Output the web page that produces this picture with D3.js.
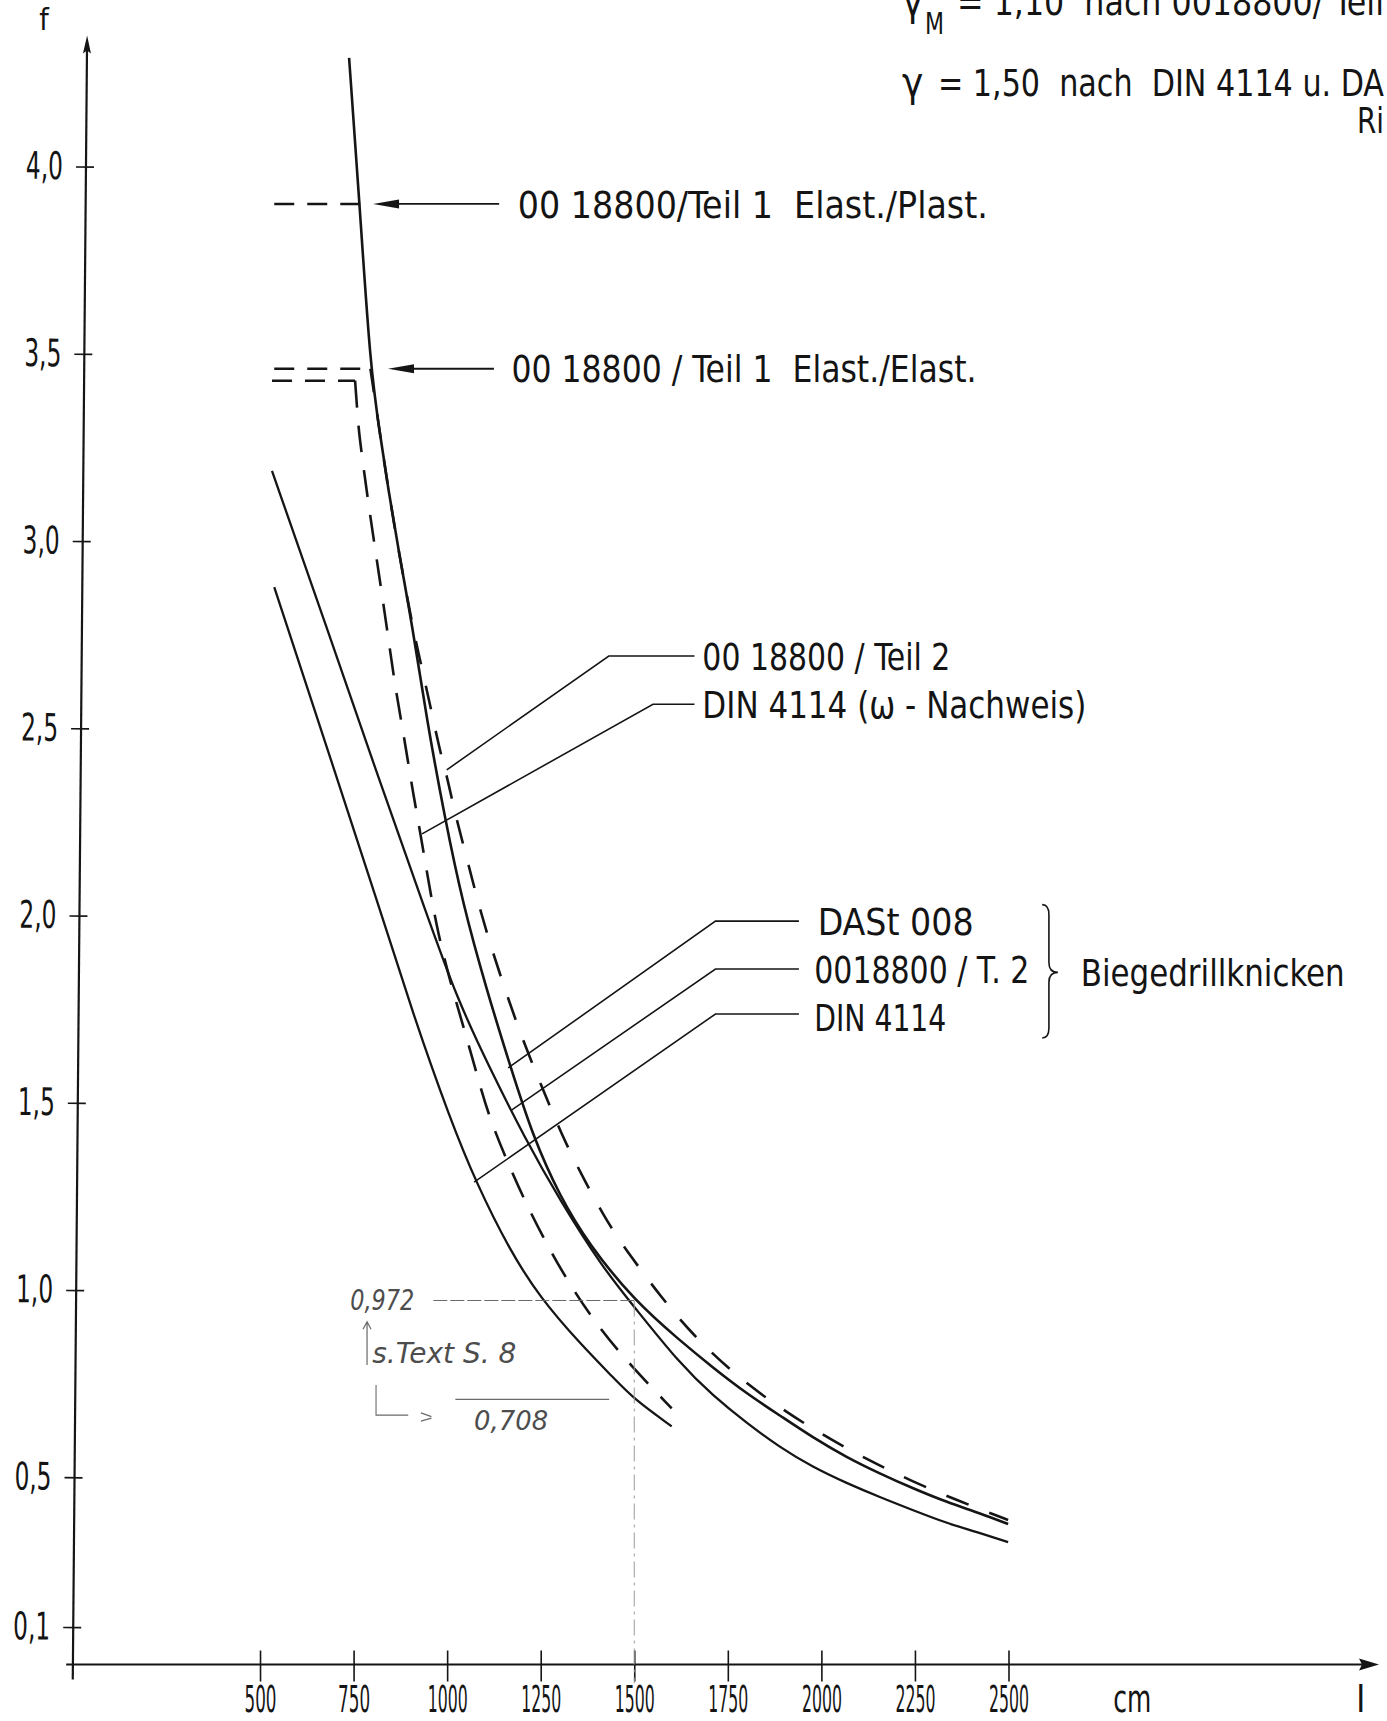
<!DOCTYPE html>
<html>
<head>
<meta charset="utf-8">
<script src="https://cdn.jsdelivr.net/npm/d3@7"></script>
<style>
  html, body { margin: 0; padding: 0; background: #fff; }
  svg { display: block; }
  text { font-family: "Liberation Sans Narrow", "DejaVu Sans Condensed", "Arial Narrow", sans-serif; fill: #141414; white-space: pre; }
  .hand { font-family: "DejaVu Sans", "Liberation Sans", sans-serif; font-style: italic; fill: #4d4d4d; }
</style>
</head>
<body>
<svg id="chart" width="1387" height="1721"></svg>
<script>
// ---- data: span length l [cm] against factor f ----
const xTicks = [500, 750, 1000, 1250, 1500, 1750, 2000, 2250, 2500];
const yTicks = [0.1, 0.5, 1.0, 1.5, 2.0, 2.5, 3.0, 3.5, 4.0];
const yTickLabels = ["0,1", "0,5", "1,0", "1,5", "2,0", "2,5", "3,0", "3,5", "4,0"];

// DASt 008 (Biegedrillknicken) - solid, runs up through the Teil 1 limits
const dast008 = [[738,4.29],[766,3.90],[795,3.46],[820,3.29],[844,3.13],[871,2.97],[906,2.78],[946,2.52],
  [994,2.26],[1042,2.03],[1106,1.80],[1168,1.60],[1229,1.41],[1301,1.25],[1380,1.12],[1500,0.972],
  [1622,0.865],[1710,0.793],[1801,0.723],[1889,0.665],[1977,0.606],[2068,0.553],[2156,0.510],
  [2245,0.470],[2336,0.433],[2424,0.404],[2499,0.375]];

// 0018800 / T. 2 (Biegedrillknicken) - solid
const din18800T2Bdk = [[532,3.187],[677,2.773],[820,2.357],[946,2.002],[1026,1.779],[1114,1.592],
  [1208,1.405],[1301,1.240],[1416,1.059],[1500,0.955],[1622,0.803],[1710,0.718],[1801,0.644],
  [1889,0.580],[1977,0.527],[2068,0.484],[2156,0.447],[2245,0.412],[2336,0.377],[2424,0.351],[2499,0.327]];

// DIN 4114 (Biegedrillknicken) - solid
const din4114Bdk = [[538,2.877],[679,2.448],[820,2.018],[909,1.736],[1007,1.459],[1079,1.283],
  [1168,1.105],[1248,0.980],[1355,0.857],[1448,0.762],[1500,0.708],[1600,0.636]];

// 0018800 / Teil 2 - dashed, limited by Teil 1 Elast./Elast.
const teil1ElastElast = 3.46;
const teil2Plateau = [[538, teil1ElastElast], [797, teil1ElastElast]];
const teil2 = [[795,3.46],[820,3.29],[844,3.13],[871,2.97],[906,2.78],[928,2.68],[954,2.565],[981,2.437],
  [999,2.375],[1021,2.272],[1053,2.152],[1082,2.037],[1117,1.917],[1152,1.811],[1187,1.709],[1224,1.613],
  [1267,1.509],[1315,1.395],[1368,1.291],[1427,1.182],[1491,1.089],[1571,0.982],[1654,0.883],[1756,0.785],
  [1871,0.697],[1996,0.617],[2117,0.550],[2242,0.489],[2376,0.433],[2499,0.386]];

// 0018800 / Teil 1 Elast./Plast. limit - dashed
const teil1ElastPlast = 3.90;
const plastPlateau = [[538, teil1ElastPlast], [768, teil1ElastPlast]];

// DIN 4114 (omega-Nachweis) - long dashes
const omegaPlateauValue = 3.428;
const omegaPlateau = [[532, omegaPlateauValue], [754, omegaPlateauValue]];
const din4114Omega = [[754,3.428],[762,3.317],[767,3.268],[789,3.103],[813,2.943],[837,2.783],[861,2.61],
  [885,2.477],[906,2.344],[930,2.211],[952,2.08],[976,1.95],[1008,1.824],[1047,1.691],[1077,1.585],
  [1109,1.47],[1160,1.344],[1211,1.230],[1275,1.105],[1341,0.993],[1408,0.897],[1488,0.801],[1600,0.684]];

// values quoted in the pencil notes at l = 1500 cm
const noteL = 1500;
const noteUpper = 0.972;
const noteLower = 0.708;

// ---- layout ----
const W = 1387, H = 1721;
const svg = d3.select("#chart");
const x = d3.scaleLinear().domain([0, 2500]).range([72.9, 1008.5]);
const y = d3.scaleLinear().domain([0, 4]).range([1664.5, 166.5]);
const ink = "#151515";

const smooth = d3.line().x(d => x(d[0])).y(d => y(d[1])).curve(d3.curveBasis);
const straight = d3.line().x(d => x(d[0])).y(d => y(d[1]));

// ---- axes ----
// x axis
const labelBase = 1712;
const xAxis = svg.append("g").attr("transform", `translate(0,${y(0)})`)
  .call(d3.axisBottom(x).tickValues(xTicks).tickSize(17).tickFormat(d3.format("d")));
xAxis.select(".domain").remove();
xAxis.selectAll(".tick line").attr("y1", -14).attr("stroke", ink).attr("stroke-width", 1.6);
xAxis.selectAll(".tick text")
  .attr("y", labelBase - y(0)).attr("dy", 0)
  .style("font-size", "38px")
  .attr("textLength", d => String(d).length > 3 ? 40 : 32)
  .attr("lengthAdjust", "spacingAndGlyphs")
  .attr("fill", ink);
svg.append("path")
  .attr("d", straight([[-18, 0], [3462, 0]]))
  .attr("stroke", ink).attr("stroke-width", 2.2).attr("fill", "none");
// arrow head on the l axis
{
  const tx = x(3490), ty = y(0);
  svg.append("path").attr("d", `M${tx},${ty} L${tx - 20},${ty - 6} L${tx - 17},${ty} L${tx - 20},${ty + 6} Z`).attr("fill", ink);
}
svg.append("text").text("cm").attr("x", x(2831)).attr("y", labelBase)
  .attr("text-anchor", "middle").style("font-size", "38px")
  .attr("textLength", 38).attr("lengthAdjust", "spacingAndGlyphs");
svg.append("text").text("l").attr("x", x(3441)).attr("y", labelBase)
  .attr("text-anchor", "middle").style("font-size", "38px");

// y axis (drawn slightly leaning, as on the sheet)
const yAxisOuter = svg.append("g").attr("transform", `rotate(0.5, ${x(0)}, ${y(0)})`);
const yAxis = yAxisOuter.append("g").attr("transform", `translate(${x(0)},0)`)
  .call(d3.axisLeft(y).tickValues(yTicks).tickSize(10).tickPadding(13)
    .tickFormat((d, i) => yTickLabels[i]));
yAxis.select(".domain").remove();
yAxis.selectAll(".tick line").attr("x1", 8).attr("stroke", ink).attr("stroke-width", 1.6);
yAxis.selectAll(".tick text")
  .style("font-size", "38px")
  .attr("textLength", 37).attr("lengthAdjust", "spacingAndGlyphs")
  .attr("fill", ink);
yAxisOuter.append("path")
  .attr("d", `M${x(0)},${y(-0.04)} L${x(0)},${y(4.33)}`)
  .attr("stroke", ink).attr("stroke-width", 2.2);
{
  const tx = x(0), ty = y(4.35);
  yAxisOuter.append("path").attr("d", `M${tx},${ty} L${tx - 4},${ty + 18} L${tx},${ty + 15} L${tx + 4},${ty + 18} Z`).attr("fill", ink);
}
svg.append("text").text("f").attr("x", 44).attr("y", 30)
  .attr("text-anchor", "middle").style("font-size", "30px");

// ---- curves ----
function curve(points, dash, width, gen) {
  svg.append("path")
    .attr("d", (gen || smooth)(points))
    .attr("fill", "none").attr("stroke", ink)
    .attr("stroke-width", width)
    .attr("stroke-linecap", "butt")
    .attr("stroke-dasharray", dash || null);
}
curve(din4114Bdk, null, 2.3);
curve(din18800T2Bdk, null, 2.3);
curve(dast008, null, 2.6);
curve(plastPlateau, "20,13", 2.4, straight);
curve(teil2Plateau, "20,13", 2.4, straight);
curve(teil2, "24,22", 2.6);
curve(omegaPlateau, "20,13", 2.4, straight);
curve(din4114Omega, "27,18", 2.6);

// ---- leaders and labels ----
const leaders = [
  [[1661, 2.693], [1432, 2.693], [999, 2.389]],
  [[1661, 2.564], [1550, 2.564], [933, 2.218]],
  [[1940, 1.985], [1717, 1.985], [1163, 1.593]],
  [[1940, 1.857], [1717, 1.857], [1173, 1.481]],
  [[1940, 1.737], [1717, 1.737], [1072, 1.288]]
];
leaders.forEach(p => svg.append("path").attr("d", straight(p))
  .attr("fill", "none").attr("stroke", ink).attr("stroke-width", 1.6));

// arrows to the Teil 1 limits
[[1139, 802, teil1ElastPlast], [1125, 842, teil1ElastElast]].forEach(([from, to, f]) => {
  const yy = y(f);
  svg.append("line").attr("x1", x(from)).attr("x2", x(to) + 10).attr("y1", yy).attr("y2", yy)
    .attr("stroke", ink).attr("stroke-width", 1.8);
  const tx = x(to);
  svg.append("path").attr("d", `M${tx},${yy} L${tx + 26},${yy - 4.5} L${tx + 26},${yy + 4.5} Z`).attr("fill", ink);
});

const labels = [
  { t: "00 18800/Teil 1  Elast./Plast.", l: 1189, f: 3.90, w: 470 },
  { t: "00 18800 / Teil 1  Elast./Elast.", l: 1172, f: 3.462, w: 465 },
  { t: "00 18800 / Teil 2", l: 1682, f: 2.693, w: 248 },
  { t: "DIN 4114 (\u03c9 - Nachweis)", l: 1682, f: 2.564, w: 384 },
  { t: "DASt 008", l: 1990, f: 1.985, w: 156 },
  { t: "0018800 / T. 2", l: 1981, f: 1.857, w: 215 },
  { t: "DIN 4114", l: 1981, f: 1.728, w: 132 },
  { t: "Biegedrillknicken", l: 2693, f: 1.848, w: 264 }
];
labels.forEach(d => svg.append("text").text(d.t)
  .attr("x", x(d.l)).attr("y", y(d.f) + 14)
  .style("font-size", "38px")
  .attr("textLength", d.w).attr("lengthAdjust", "spacingAndGlyphs"));

// brace grouping the Biegedrillknicken curves
{
  const x0 = x(2590), x1 = x(2608), x2 = x(2632);
  const y0 = y(2.029), ym = y(1.848), y1 = y(1.673), r = 10;
  svg.append("path")
    .attr("d", `M${x0},${y0} Q${x1},${y0} ${x1},${y0 + r} L${x1},${ym - r} Q${x1},${ym} ${x2},${ym} Q${x1},${ym} ${x1},${ym + r} L${x1},${y1 - r} Q${x1},${y1} ${x0},${y1}`)
    .attr("fill", "none").attr("stroke", ink).attr("stroke-width", 1.6);
}

// header lines (the first one runs off the top of the sheet)
svg.append("text").text("\u03b3").attr("x", 902).attr("y", 15).style("font-size", "40px");
svg.append("text").text("M").attr("x", 925).attr("y", 34).style("font-size", "30px")
  .attr("textLength", 19).attr("lengthAdjust", "spacingAndGlyphs");
svg.append("text").text("= 1,10  nach 0018800/ Teil").attr("x", 957).attr("y", 15).style("font-size", "38px")
  .attr("textLength", 427).attr("lengthAdjust", "spacingAndGlyphs");
svg.append("text").text("\u03b3").attr("x", 902).attr("y", 96).style("font-size", "40px");
svg.append("text").text("= 1,50  nach  DIN 4114 u. DA").attr("x", 938).attr("y", 96).style("font-size", "38px")
  .attr("textLength", 446).attr("lengthAdjust", "spacingAndGlyphs");
svg.append("text").text("Ri").attr("x", 1357).attr("y", 133).style("font-size", "36px")
  .attr("textLength", 27).attr("lengthAdjust", "spacingAndGlyphs");

// ---- pencil notes ----
const pencil = "#6a6a6a";
svg.append("path").attr("d", straight([[963, noteUpper], [noteL, noteUpper]]))
  .attr("stroke", pencil).attr("stroke-width", 1).attr("stroke-dasharray", "14,3").attr("fill", "none");
svg.append("path").attr("d", straight([[1022, noteLower], [1433, noteLower]]))
  .attr("stroke", pencil).attr("stroke-width", 1.1).attr("fill", "none");
svg.append("path").attr("d", straight([[noteL, noteUpper], [noteL, -0.05]]))
  .attr("stroke", "#9a9a9a").attr("stroke-width", 1).attr("stroke-dasharray", "16,5,3,5").attr("fill", "none");
svg.append("text").attr("class", "hand").text("0,972").attr("x", x(741)).attr("y", y(0.946))
  .style("font-size", "28px").attr("textLength", 64).attr("lengthAdjust", "spacingAndGlyphs");
svg.append("text").attr("class", "hand").text("s.Text S. 8").attr("x", x(800)).attr("y", y(0.805))
  .style("font-size", "28px").attr("textLength", 144).attr("lengthAdjust", "spacingAndGlyphs");
svg.append("text").attr("class", "hand").text("0,708").attr("x", x(1072)).attr("y", y(0.626))
  .style("font-size", "26px").attr("textLength", 74).attr("lengthAdjust", "spacingAndGlyphs");
// up arrow and the hooked arrow of the notes
svg.append("path").attr("d", `M${x(786)},${y(0.80)} L${x(786)},${y(0.915)} M${x(786) - 4},${y(0.895)} L${x(786)},${y(0.915)} L${x(786) + 4},${y(0.895)}`)
  .attr("stroke", pencil).attr("stroke-width", 1.2).attr("fill", "none");
svg.append("path").attr("d", `M${x(810)},${y(0.746)} L${x(810)},${y(0.666)} L${x(896)},${y(0.666)}`)
  .attr("stroke", pencil).attr("stroke-width", 1.1).attr("fill", "none");
svg.append("path").attr("d", `M${x(930)},${y(0.672)} L${x(958)},${y(0.662)} M${x(930)},${y(0.650)} L${x(958)},${y(0.658)}`)
  .attr("stroke", pencil).attr("stroke-width", 1.2).attr("fill", "none");
</script>
</body>
</html>
